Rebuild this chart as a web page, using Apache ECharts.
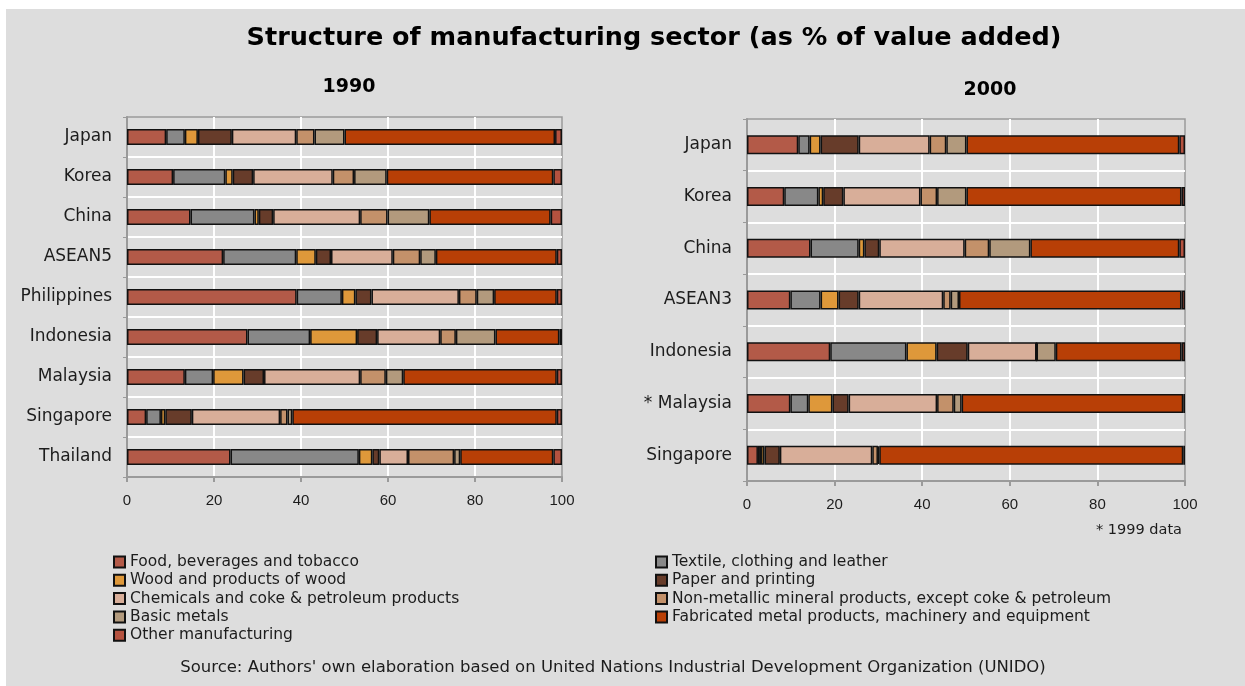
<!DOCTYPE html>
<html>
<head>
<meta charset="utf-8">
<script src="https://cdn.jsdelivr.net/npm/echarts@6/dist/echarts.min.js"></script>
<style>
  html, body { margin: 0; padding: 0; background: #ffffff; }
  #chart { width: 1245px; height: 686px; }
</style>
</head>
<body>
<div id="chart"></div>
<script>
// Manufacturing sectors, in stacking order
const sectors = [
  'Food, beverages and tobacco',
  'Textile, clothing and leather',
  'Wood and products of wood',
  'Paper and printing',
  'Chemicals and coke & petroleum products',
  'Non-metallic mineral products, except coke & petroleum',
  'Basic metals',
  'Fabricated metal products, machinery and equipment',
  'Other manufacturing'
];
const sectorColors = ['#b35a48', '#888888', '#de983a', '#673c2a', '#d8ae99', '#c3916a', '#b29a7d', '#b83f06', '#b5523f'];

// 1990 panel
const countries1990 = ['Japan', 'Korea', 'China', 'ASEAN5', 'Philippines', 'Indonesia', 'Malaysia', 'Singapore', 'Thailand'];
const food1990     = [9.0, 10.6, 14.6, 22.1, 39.0, 27.7, 13.3, 4.4, 23.8];
const textile1990  = [4.3, 12.0, 14.7, 16.8, 10.4, 14.4, 6.5, 3.4, 29.5];
const wood1990     = [3.0, 1.7, 1.0, 4.5, 3.1, 10.8, 7.0, 1.0, 3.1];
const paper1990    = [7.8, 4.7, 3.3, 3.5, 3.7, 4.6, 4.7, 6.1, 1.6];
const chem1990     = [14.8, 18.3, 20.0, 14.2, 20.1, 14.5, 22.1, 20.3, 6.6];
const nonmet1990   = [4.2, 4.9, 6.3, 6.3, 4.1, 3.6, 5.9, 1.7, 10.6];
const basic1990    = [6.9, 7.5, 9.6, 3.6, 4.0, 9.1, 4.0, 1.1, 1.4];
const fabric1990   = [48.4, 38.3, 27.9, 27.8, 14.4, 14.7, 35.3, 60.8, 21.4];
const other1990    = [1.6, 2.0, 2.6, 1.2, 1.2, 0.6, 1.2, 1.2, 2.0];

// 2000 panel
const countries2000 = ['Japan', 'Korea', 'China', 'ASEAN3', 'Indonesia', '* Malaysia', 'Singapore'];
const food2000     = [11.7, 8.5, 14.5, 9.9, 19.0, 9.9, 2.5];
const textile2000  = [2.6, 7.8, 11.0, 6.9, 17.4, 4.1, 0.7];
const wood2000     = [2.5, 1.1, 1.3, 4.1, 6.9, 5.5, 0.8];
const paper2000    = [8.7, 4.6, 3.4, 4.6, 7.1, 3.7, 3.5];
const chem2000     = [16.2, 17.6, 19.5, 19.3, 15.7, 20.2, 21.1];
const nonmet2000   = [3.8, 3.8, 5.6, 1.7, 0.0, 3.8, 1.3];
const basic2000    = [4.6, 6.7, 9.4, 1.9, 4.4, 1.8, 0.3];
const fabric2000   = [48.6, 49.1, 34.0, 50.8, 28.7, 50.6, 69.4];
const other2000    = [1.3, 0.8, 1.3, 0.8, 0.8, 0.4, 0.4];

const xTicks = [0, 20, 40, 60, 80, 100];

const values1990 = [food1990, textile1990, wood1990, paper1990, chem1990, nonmet1990, basic1990, fabric1990, other1990];
const values2000 = [food2000, textile2000, wood2000, paper2000, chem2000, nonmet2000, basic2000, fabric2000, other2000];

const axisGray = '#9a9a9a';
const textColor = '#1c1c1c';
const bodyFont = 'DejaVu Sans';

function valueAxis(gridIndex) {
  return {
    gridIndex: gridIndex,
    type: 'value',
    min: xTicks[0],
    max: xTicks[xTicks.length - 1],
    interval: xTicks[1] - xTicks[0],
    axisLine: { show: true, lineStyle: { color: axisGray, width: 2 } },
    axisTick: { show: true, length: 5, lineStyle: { color: axisGray, width: 2 } },
    axisLabel: { margin: 16, fontFamily: 'Liberation Sans', fontSize: 15, color: textColor },
    splitLine: { show: true, showMinLine: false, showMaxLine: false, lineStyle: { color: '#ffffff', width: 2 } }
  };
}

function categoryAxis(gridIndex, cats) {
  return {
    gridIndex: gridIndex,
    type: 'category',
    inverse: true,
    data: cats,
    axisLine: { show: true, lineStyle: { color: axisGray, width: 2 } },
    axisTick: { show: true, length: 4, lineStyle: { color: axisGray, width: 1 } },
    axisLabel: { margin: 15, fontFamily: bodyFont, fontSize: 17, color: textColor },
    splitLine: { show: true, showMinLine: false, showMaxLine: false, lineStyle: { color: '#ffffff', width: 2 } }
  };
}

function panelSeries(values, axisIndex, stackName, barWidth) {
  return values.map(function (arr, i) {
    return {
      type: 'bar',
      name: sectors[i],
      stack: stackName,
      xAxisIndex: axisIndex,
      yAxisIndex: axisIndex,
      barWidth: barWidth,
      data: arr,
      itemStyle: { color: sectorColors[i], borderColor: '#111111', borderWidth: 1.5 },
      emphasis: { disabled: true }
    };
  });
}

const legendText = { fontFamily: bodyFont, fontSize: 15.5, color: textColor, lineHeight: 12 };

const option = {
  backgroundColor: '#ffffff',
  animation: false,
  graphic: {
    elements: [
      { type: 'rect', z: -100, silent: true, shape: { x: 6, y: 9, width: 1239, height: 677 }, style: { fill: '#dddddd' } },
      { type: 'text', x: 654, y: 38, silent: true,
        style: { text: 'Structure of manufacturing sector (as % of value added)', fill: '#000', font: 'bold 25.5px "DejaVu Sans"', textAlign: 'center', textVerticalAlign: 'middle' } },
      { type: 'text', x: 349, y: 87, silent: true,
        style: { text: '1990', fill: '#000', font: 'bold 19px "DejaVu Sans"', textAlign: 'center', textVerticalAlign: 'middle' } },
      { type: 'text', x: 990, y: 90, silent: true,
        style: { text: '2000', fill: '#000', font: 'bold 19px "DejaVu Sans"', textAlign: 'center', textVerticalAlign: 'middle' } },
      { type: 'text', x: 1182, y: 530, silent: true,
        style: { text: '* 1999 data', fill: textColor, font: '14.5px "DejaVu Sans"', textAlign: 'right', textVerticalAlign: 'middle' } },
      { type: 'text', x: 613, y: 668, silent: true,
        style: { text: "Source: Authors' own elaboration based on United Nations Industrial Development Organization (UNIDO)", fill: textColor, font: '16.5px "DejaVu Sans"', textAlign: 'center', textVerticalAlign: 'middle' } }
    ]
  },
  legend: [
    {
      data: [sectors[0], sectors[2], sectors[4], sectors[6], sectors[8]],
      orient: 'vertical', left: 113, top: 554, padding: 0,
      itemWidth: 11, itemHeight: 11, itemGap: 2.3, icon: 'rect',
      selectedMode: false, textStyle: legendText
    },
    {
      data: [sectors[1], sectors[3], sectors[5], sectors[7]],
      orient: 'vertical', left: 655, top: 554, padding: 0,
      itemWidth: 11, itemHeight: 11, itemGap: 2.3, icon: 'rect',
      selectedMode: false, textStyle: legendText
    }
  ],
  grid: [
    { left: 127, top: 117, width: 435, height: 360, show: true, borderColor: axisGray, borderWidth: 1.5, backgroundColor: 'transparent' },
    { left: 747, top: 119, width: 438, height: 362, show: true, borderColor: axisGray, borderWidth: 1.5, backgroundColor: 'transparent' }
  ],
  xAxis: [valueAxis(0), valueAxis(1)],
  yAxis: [categoryAxis(0, countries1990), categoryAxis(1, countries2000)],
  series: panelSeries(values1990, 0, 'y1990', 16).concat(panelSeries(values2000, 1, 'y2000', 19))
};

const chart = echarts.init(document.getElementById('chart'), null, { renderer: 'canvas' });
chart.setOption(option);
</script>
</body>
</html>
